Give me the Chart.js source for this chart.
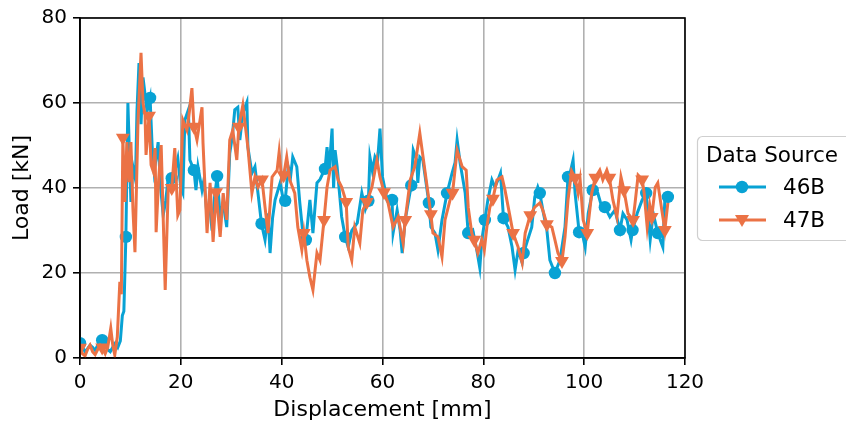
<!DOCTYPE html>
<html>
<head>
<meta charset="utf-8">
<script src="https://cdn.jsdelivr.net/npm/chart.js@4/dist/chart.umd.min.js"></script>
<style>
  body { margin: 0; background: #fff; }
  #wrap { width: 846px; height: 423px; }
</style>
</head>
<body>
<div id="wrap"><canvas id="loadChart"></canvas></div>
<script>
// [displacement mm, load kN]
const series46 = [[0,3.5],[0.5,2.5],[1,1.5],[1.5,2.2],[2,3],[2.5,2.5],[3,1.8],[3.5,3],[4,3.8],[4.4,4.2],[5,3.5],[5.5,2],[6,1.5],[6.5,2.5],[7,3.5],[7.5,2.5],[8,4],[8.4,10],[8.7,11],[9.1,28.5],[9.5,60],[10.1,36.7],[10.5,45],[11,42],[11.3,58],[11.7,69.4],[12.1,55],[12.5,66],[12.9,62],[13.3,58],[13.9,61.2],[14.3,50],[14.7,44],[15.1,47],[15.5,50.8],[16,40],[16.5,33.6],[17,37],[17.5,42.3],[18.2,42.3],[18.8,44],[19.4,47],[20,40],[20.4,38.8],[20.8,56],[21.5,58.4],[21.8,46.6],[22.6,44.2],[23,39.5],[23.4,45],[24.2,39.5],[24.6,42],[25.2,33.2],[25.7,36],[26.2,30],[26.7,38],[27.2,42.8],[27.8,33.2],[28.4,36.5],[29.1,30.8],[29.7,48.2],[30.2,52],[30.7,58.4],[31.3,59],[31.7,51.3],[32.3,57.6],[33.1,60.2],[33.3,49.6],[34.1,43.5],[34.7,45],[35.3,38.8],[36,31.6],[36.7,27.8],[37.3,34],[37.7,24.7],[38.2,33],[38.7,37.2],[39.7,41.2],[40.2,38],[40.7,37],[41.3,45],[41.8,43],[42.2,47.3],[43,45],[43.6,36.5],[44.2,29.4],[44.8,27.8],[45.6,37.2],[46.2,29.4],[47,41.2],[47.6,42],[48.6,44.5],[49,49.6],[49.4,44],[50,54],[50.3,40],[50.6,48.9],[51,45],[51.9,33.2],[52.6,28.5],[53.2,26.1],[53.9,30],[55,31.8],[55.9,38.8],[56.6,35],[57.2,37],[57.5,47.3],[58,44],[58.5,47.3],[59,46],[59.5,54],[60,42.6],[60.9,37.2],[61.9,37.2],[62.1,29.4],[62.9,34.8],[63.5,30],[63.9,24.7],[64.5,32.5],[65.7,40.6],[66.1,48.9],[66.8,46.6],[67,41.2],[67.4,47.3],[68,46.6],[69.2,36.5],[69.6,30.8],[70.4,29.4],[71,25.4],[71.8,32.5],[72.8,38.8],[73.8,43.5],[74.4,46],[74.8,51.3],[75.4,45.9],[76.4,38.8],[77,29.4],[77.9,30.1],[78.7,25.4],[79.3,21.2],[79.7,27.8],[80.3,32.5],[80.9,37.2],[81.7,41.9],[82.3,40.2],[82.9,41.9],[83.4,43.5],[84,32.9],[84.9,30.8],[85.7,26.1],[86.3,20.7],[86.9,25.4],[87.7,22.4],[88,24.7],[88.8,27.8],[89.6,30.8],[90.2,37.9],[90.8,40.2],[91.2,38.8],[91.8,34.8],[92.6,30.1],[93.2,23],[94.2,20],[95.2,23],[96.2,30.8],[96.8,42.6],[97.3,44],[97.8,46.6],[98.2,38.8],[99,29.6],[99.6,29.4],[100.2,26.1],[100.8,34],[101.7,39.5],[102.7,38.8],[103.5,35.5],[104.1,35.5],[105.1,33.2],[106.1,34.8],[107.1,30.1],[107.7,34],[108.5,32.5],[109.3,27.8],[109.6,30.1],[110.5,34],[111.5,37.2],[112.3,38.8],[113.1,27.8],[113.7,34],[114.6,29.4],[115.6,26.1],[116,37.2],[116.6,37.9]];

const series47 = [[0,2.4],[0.5,1],[1,0.5],[1.5,2],[2,3],[2.5,1.5],[3,0.8],[3.5,2],[4,3],[4.4,2.5],[5,1],[5.5,2.5],[6.1,7],[6.5,3],[6.9,0.7],[7.4,5],[7.9,17.9],[8.2,15],[8.5,51.8],[8.9,36.7],[9.3,50.8],[9.7,41.4],[10.1,50.8],[10.5,35],[10.9,24.9],[11.5,55.5],[12.1,71.8],[12.5,60],[12.9,57.2],[13.1,47.8],[13.7,57],[14.1,45.4],[14.5,44],[14.9,49.4],[15.1,29.6],[15.6,42],[16.1,50.1],[16.9,16],[17.5,40],[18.2,40],[18.8,49.4],[19.4,33.6],[19.8,34.8],[20.4,56],[21.2,53.6],[21.7,58],[22.2,63.5],[22.6,54.4],[23.2,51.3],[24.2,59],[24.4,50.6],[25.2,29.4],[25.8,41.2],[26.4,27.3],[27,39],[27.8,28.5],[28.4,38.8],[29.1,32.5],[29.7,51.3],[30.3,53.6],[31.1,46.6],[31.5,54.4],[32.3,59.5],[33.3,49.6],[34.1,38.8],[34.7,42.6],[35.3,40.2],[36.1,42],[36.7,35.5],[37.3,29.4],[38.1,42.6],[39.1,44.2],[39.5,48.5],[40,42],[40.4,43],[41,47.3],[41.6,41.9],[42.6,38.8],[43.2,30.8],[44,25.4],[44.4,29.4],[45,23],[45.6,19],[46.2,16],[47,24.7],[47.6,23],[48.4,32.5],[49,40.2],[49.6,44.2],[50.6,45],[51.2,41.9],[51.9,40.2],[52.8,36.7],[53.2,26.1],[53.9,23],[54.5,30.8],[55.5,27],[56.1,34.8],[56.9,36.7],[57.9,40.2],[58.9,46.6],[59.5,42.6],[60.3,39],[61.1,36.5],[62.1,30.8],[63.1,33.2],[64.1,27],[64.5,32.5],[65.5,41.9],[66.4,45],[67.4,52.9],[68.4,44.2],[69.6,33.8],[70,29.4],[71,28.5],[71.8,23.8],[72.4,32.5],[73.4,37.2],[73.9,38.9],[74.8,48.9],[75.8,45],[76.6,44.2],[77,35.5],[77.7,29.4],[78.2,27.8],[78.9,24.7],[79.7,27.8],[80.2,25.4],[80.7,30.8],[81.3,35.5],[81.9,37.5],[82.7,41.9],[83.7,42.6],[84.3,39.5],[85.3,33.2],[85.9,29.4],[86.9,26.1],[87.7,22.4],[88.3,29.4],[89.3,33.6],[90.2,35.5],[91.2,36.5],[91.8,34.8],[92.6,31.5],[93.6,30.8],[94.2,27.8],[94.8,24.7],[95.6,22.8],[96.2,28.5],[96.8,37.2],[97.5,44],[98.2,42.4],[98.8,38.8],[99.2,41.9],[99.8,32.5],[100.6,29.4],[101.5,38.8],[102.2,42.4],[103.1,44.2],[103.7,41.9],[104.5,44.2],[105,42.4],[105.7,37.2],[106.5,33.2],[107.3,42.6],[107.9,39.5],[108.7,34],[109.7,32.5],[110.1,36.5],[110.7,43],[111.5,42],[111.9,38.8],[112.5,30.8],[113,36],[113.4,33.2],[114.1,40.2],[114.6,41.2],[115.4,34.8],[116,30.1],[116.6,36.5]];

// displacements where a marker is drawn
const marks46 = [0,4.4,9.1,13.9,18.2,22.6,27.2,36,40.7,44.8,48.6,52.6,57.2,61.9,65.7,69.2,72.8,77,80.3,84,88,91.2,94.2,96.8,99,101.7,104.1,107.1,109.6,112.3,114.6,116.6];
const marks47 = [0,4.4,8.5,13.7,18.2,22.6,27,31.5,36.1,40.4,44.4,48.4,52.8,56.9,60.3,64.5,69.6,73.9,78.2,81.9,85.9,89.3,92.6,95.6,98.2,100.6,102.2,105,107.9,109.7,111.5,113.4,116];

const seriesLabels = ['46B', '47B'];
const xRange = [0, 120];
const yRange = [0, 80];

const BLUE = '#08a2d4';
const ORANGE = '#eb7245';
const FONT = 'DejaVu Sans';

function toPoints(pairs) {
    return pairs.map(p => ({ x: p[0], y: p[1] }));
}

// legend box on the right, matplotlib style
const legendBox = {
    id: 'legendBox',
    afterDatasetsDraw(chart) {
        const c = chart.ctx;
        const a = chart.chartArea;
        c.save();
        c.strokeStyle = '#000';
        c.lineWidth = 1.6;
        c.strokeRect(a.left, a.top, a.right - a.left, a.bottom - a.top);
        c.restore();
    },
    afterDraw(chart) {
        const c = chart.ctx;
        c.save();
        c.beginPath();
        c.roundRect(697.5, 136.5, 170, 104, 5);
        c.fillStyle = 'rgba(255,255,255,0.8)';
        c.fill();
        c.strokeStyle = '#cfcfcf';
        c.lineWidth = 1.2;
        c.stroke();

        c.fillStyle = '#000';
        c.font = '21.5px "' + FONT + '"';
        c.textBaseline = 'middle';
        c.fillText('Data Source', 706, 156);

        chart.data.datasets.forEach((ds, i) => {
            const y = 187 + i * 33;
            c.strokeStyle = ds.borderColor;
            c.lineWidth = 3;
            c.beginPath();
            c.moveTo(719, y);
            c.lineTo(766, y);
            c.stroke();
            c.fillStyle = ds.borderColor;
            c.beginPath();
            if (ds.pointStyle === 'circle') {
                c.arc(742, y, 6.2, 0, Math.PI * 2);
            } else {
                c.moveTo(742, y + 7);
                c.lineTo(742 - 7, y - 5);
                c.lineTo(742 + 7, y - 5);
                c.closePath();
            }
            c.fill();
            c.fillStyle = '#000';
            c.fillText(ds.label, 783, y + 1);
        });
        c.restore();
    }
};

const ctx = document.getElementById('loadChart').getContext('2d');

new Chart(ctx, {
    type: 'line',
    data: {
        datasets: [
            {
                label: seriesLabels[0],
                data: toPoints(series46),
                borderColor: BLUE,
                backgroundColor: BLUE,
                borderWidth: 3,
                pointStyle: 'circle',
                pointRadius: c => marks46.includes(series46[c.dataIndex][0]) ? 6.2 : 0,
                pointBorderWidth: 0,
                tension: 0,
                order: 1
            },
            {
                label: seriesLabels[1],
                data: toPoints(series47),
                borderColor: ORANGE,
                backgroundColor: ORANGE,
                borderWidth: 3,
                pointStyle: 'triangle',
                pointRotation: 180,
                pointRadius: c => marks47.includes(series47[c.dataIndex][0]) ? 8 : 0,
                pointBorderWidth: 0,
                tension: 0,
                order: 0
            }
        ]
    },
    options: {
        responsive: true,
        maintainAspectRatio: false,
        animation: false,
        layout: { padding: { left: 0, top: 18, right: 161, bottom: 0 } },
        scales: {
            x: {
                type: 'linear',
                min: xRange[0],
                max: xRange[1],
                afterFit: s => { s.height = 65; },
                ticks: { stepSize: 20, color: '#000', padding: 6, maxRotation: 0, font: { family: FONT, size: 20 } },
                grid: { color: '#b0b0b0', lineWidth: 1.6, tickLength: 7, tickColor: '#000', tickWidth: 1.6 },
                border: { color: '#000', width: 1.6 },
                title: { display: true, text: 'Displacement [mm]', color: '#000', padding: { top: 0, bottom: 0 }, font: { family: FONT, size: 22 } }
            },
            y: {
                min: yRange[0],
                max: yRange[1],
                afterFit: s => { s.width = 80; },
                ticks: { stepSize: 20, color: '#000', padding: 6, font: { family: FONT, size: 20 } },
                grid: { color: '#b0b0b0', lineWidth: 1.6, tickLength: 7, tickColor: '#000', tickWidth: 1.6 },
                border: { color: '#000', width: 1.6 },
                title: { display: true, text: 'Load [kN]', color: '#000', padding: { top: 9, bottom: 0 }, font: { family: FONT, size: 22 } }
            }
        },
        plugins: {
            legend: { display: false },
            tooltip: { enabled: false }
        }
    },
    plugins: [legendBox]
});
</script>
</body>
</html>
